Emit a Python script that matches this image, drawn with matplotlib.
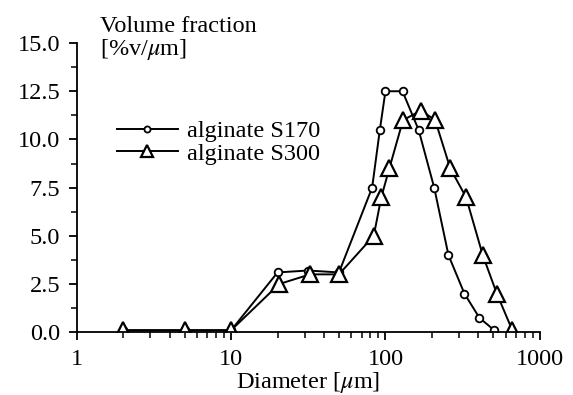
import numpy as np
import matplotlib
matplotlib.use('Agg')
import matplotlib.pyplot as plt
from matplotlib.ticker import FixedLocator, LogLocator, NullFormatter, FixedFormatter

plt.rcParams['font.family'] = ['Liberation Serif', 'DejaVu Serif']
plt.rcParams['mathtext.fontset'] = 'stix'

# data
d_s170 = [2, 5, 10, 20, 31.5, 50, 82, 92, 100, 129, 164, 207, 256, 325, 406, 507]
v_s170 = [0.1, 0.1, 0.1, 3.1, 3.2, 3.1, 7.5, 10.5, 12.5, 12.5, 10.5, 7.5, 4.0, 2.0, 0.75, 0.1]
d_s300 = [2, 5, 10, 20.5, 32.5, 50, 84, 94, 106, 130, 170, 210, 263, 333, 427, 527, 664]
v_s300 = [0.1, 0.1, 0.1, 2.5, 3.0, 3.0, 5.0, 7.0, 8.5, 11.0, 11.5, 11.0, 8.5, 7.0, 4.0, 2.0, 0.1]
yticks = [0.0, 2.5, 5.0, 7.5, 10.0, 12.5, 15.0]
xticks = [1, 10, 100, 1000]

fs = 17.5

fig = plt.figure(figsize=(5.73, 3.95), dpi=100)
ax = fig.add_axes([0.134, 0.159, 0.808, 0.732])

ax.plot(d_s170, v_s170, color='black', lw=1.4, marker='o', ms=5.5,
        mfc='white', mec='black', mew=1.3, label='alginate S170')
ax.plot(d_s300, v_s300, color='black', lw=1.4, marker='^', ms=11,
        mfc='white', mec='black', mew=1.6, label='alginate S300')

ax.set_xscale('log')
ax.set_xlim(1, 1000)
ax.set_ylim(0, 15)
ax.xaxis.set_major_locator(FixedLocator(xticks))
ax.xaxis.set_major_formatter(FixedFormatter([str(x) for x in xticks]))
ax.xaxis.set_minor_locator(LogLocator(base=10, subs=np.arange(2, 10)))
ax.xaxis.set_minor_formatter(NullFormatter())
ax.set_yticks(yticks)
ax.set_yticklabels(['%.1f' % y for y in yticks])
ax.yaxis.set_minor_locator(FixedLocator(np.arange(0, 15.1, 1.25)))

for s in ['top', 'right']:
    ax.spines[s].set_visible(False)
for s in ['left', 'bottom']:
    ax.spines[s].set_linewidth(1.3)
ax.tick_params(which='major', direction='out', length=6, width=1.3, labelsize=fs, pad=6)
ax.tick_params(which='minor', direction='out', length=4, width=1.1)

ax.set_xlabel(r'Diameter [$\mu$m]', fontsize=fs, labelpad=0)
# y label sits above the axis, two lines
fig.text(0.1745, 0.919, 'Volume fraction', fontsize=fs, ha='left', va='baseline')
fig.text(0.1745, 0.862, r'[%v/$\mu$m]', fontsize=fs, ha='left', va='baseline')

leg = ax.legend(loc='upper left', bbox_to_anchor=(0.204, 0.695),
                bbox_transform=fig.transFigure, frameon=False, fontsize=fs,
                borderpad=0, borderaxespad=0, handlelength=2.5,
                handletextpad=0.4, labelspacing=0.0, markerscale=0.8)

fig.savefig('out.png', dpi=100)
